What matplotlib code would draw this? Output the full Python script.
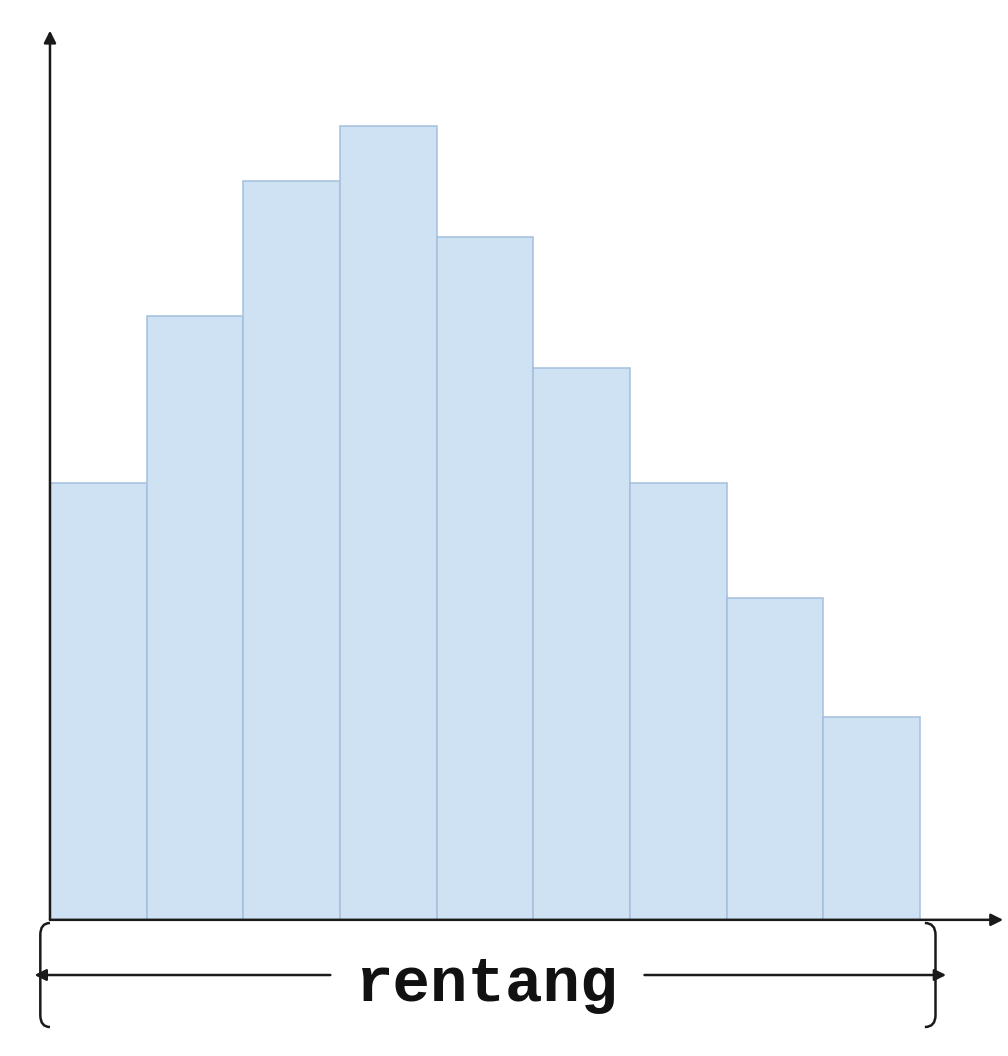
import matplotlib
matplotlib.use("Agg")
import matplotlib.pyplot as plt
from matplotlib.path import Path
from matplotlib.patches import PathPatch

# histogram bins (class index) and frequencies
bin_edges = [0, 1, 2, 3, 4, 5, 6, 7, 8, 9]
frequencies = [11.0, 15.2, 18.6, 20.0, 17.2, 13.9, 11.0, 8.1, 5.1]
range_label = "rentang"

INK = "#1a1a1a"
BAR_FILL = "#cfe2f3"
BAR_EDGE = "#a3c0de"

fig = plt.figure(figsize=(10.08, 10.56), dpi=100)
ax = fig.add_axes([0, 0, 1, 1])
ax.set_xlim(-0.517, 9.91)
ax.set_ylim(-3.43, 23.17)
ax.axis("off")

# bars
ax.bar(bin_edges[:-1], frequencies, width=1.0, align="edge",
       color=BAR_FILL, edgecolor=BAR_EDGE, linewidth=1.1, zorder=2)

# axes with arrow heads
arrow = dict(arrowstyle="-|>", lw=1.8, color=INK, mutation_scale=18,
             shrinkA=0, shrinkB=0)
ax.annotate("", xy=(0, 22.4), xytext=(0, 0), arrowprops=arrow, zorder=3)
ax.annotate("", xy=(9.86, 0), xytext=(0, 0), arrowprops=arrow, zorder=3)

# bracket under the x axis showing the range
x0, x1 = bin_edges[0], bin_edges[-1]
top, bot, mid = -0.08, -2.7, -1.39


def bracket(xa, xb):
    # xa: where the curl attaches, xb: vertical line position
    verts = [(xa, top), (xb, top), (xb, top - 0.3),
             (xb, bot + 0.3), (xb, bot), (xa, bot)]
    codes = [Path.MOVETO, Path.CURVE3, Path.CURVE3,
             Path.LINETO, Path.CURVE3, Path.CURVE3]
    ax.add_patch(PathPatch(Path(verts, codes), fill=False, lw=1.8,
                           edgecolor=INK, zorder=3))


bracket(x0 + 0.0, x0 - 0.1)
bracket(x1 + 0.05, x1 + 0.16)

arrow2 = dict(arrowstyle="-|>", lw=1.8, color=INK, mutation_scale=17,
              shrinkA=0, shrinkB=0)
ax.annotate("", xy=(x0 - 0.16, mid), xytext=(2.9, mid), arrowprops=arrow2)
ax.annotate("", xy=(x1 + 0.27, mid), xytext=(6.15, mid), arrowprops=arrow2)

ax.text((x0 + x1) / 2 + 0.02, mid - 0.25, range_label, ha="center", va="center",
        fontsize=45, fontweight="bold", family="Liberation Mono", color="#111111")

fig.savefig("out.png", dpi=100, facecolor="white")
